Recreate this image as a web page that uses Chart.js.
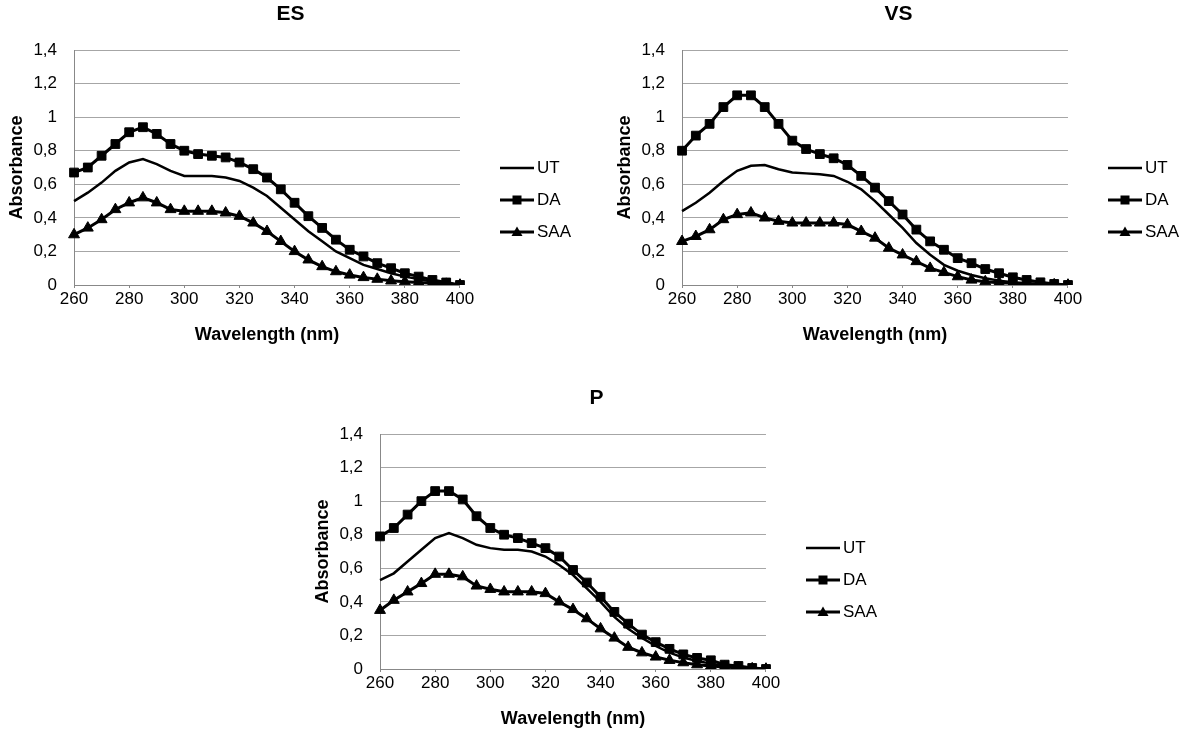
<!DOCTYPE html>
<html>
<head>
<meta charset="utf-8">
<script src="https://cdn.jsdelivr.net/npm/chart.js@4.4.1/dist/chart.umd.min.js"></script>
<style>
  html, body { margin: 0; padding: 0; background: #fff; overflow: hidden; }
  body { width: 1181px; height: 731px; position: relative; }
  canvas { position: absolute; }
</style>
</head>
<body>
<canvas id="esChart" width="581" height="400" style="left:0px;top:0px"></canvas>
<canvas id="vsChart" width="581" height="400" style="left:608px;top:0px"></canvas>
<canvas id="pChart" width="581" height="392" style="left:306px;top:384px"></canvas>
<script>
// wavelength categories (nm)
const wavelengths = [260, 265, 270, 275, 280, 285, 290, 295, 300, 305, 310, 315, 320, 325, 330,
  335, 340, 345, 350, 355, 360, 365, 370, 375, 380, 385, 390, 395, 400];
const seriesNames = ['UT', 'DA', 'SAA'];

// ES
const esUT = [0.50, 0.55, 0.61, 0.68, 0.73, 0.75, 0.72, 0.68, 0.65, 0.65, 0.65, 0.64, 0.62, 0.58, 0.53,
  0.46, 0.39, 0.32, 0.26, 0.20, 0.16, 0.12, 0.095, 0.07, 0.05, 0.035, 0.02, 0.01, 0.0];
const esDA = [0.67, 0.70, 0.77, 0.84, 0.91, 0.94, 0.90, 0.84, 0.80, 0.78, 0.77, 0.76, 0.73, 0.69, 0.64,
  0.57, 0.49, 0.41, 0.34, 0.27, 0.21, 0.17, 0.13, 0.10, 0.07, 0.05, 0.03, 0.015, 0.0];
const esSAA = [0.30, 0.34, 0.39, 0.45, 0.49, 0.52, 0.49, 0.45, 0.44, 0.44, 0.44, 0.43, 0.41, 0.37, 0.32,
  0.26, 0.20, 0.15, 0.11, 0.08, 0.06, 0.045, 0.035, 0.025, 0.02, 0.015, 0.01, 0.005, 0.0];

// VS
const vsUT = [0.44, 0.49, 0.55, 0.62, 0.68, 0.71, 0.715, 0.69, 0.67, 0.665, 0.66, 0.65, 0.615, 0.57, 0.50,
  0.42, 0.34, 0.25, 0.18, 0.12, 0.085, 0.06, 0.04, 0.026, 0.016, 0.01, 0.006, 0.002, 0.0];
const vsDA = [0.80, 0.89, 0.96, 1.06, 1.13, 1.13, 1.06, 0.96, 0.86, 0.81, 0.78, 0.755, 0.715, 0.65, 0.58,
  0.50, 0.42, 0.33, 0.26, 0.21, 0.16, 0.13, 0.095, 0.07, 0.046, 0.03, 0.016, 0.006, 0.0];
const vsSAA = [0.26, 0.29, 0.33, 0.39, 0.42, 0.43, 0.40, 0.38, 0.37, 0.37, 0.37, 0.37, 0.36, 0.32, 0.28,
  0.22, 0.18, 0.14, 0.10, 0.075, 0.05, 0.03, 0.02, 0.014, 0.01, 0.006, 0.004, 0.002, 0.0];

// P
const pUT = [0.53, 0.57, 0.64, 0.71, 0.78, 0.81, 0.78, 0.74, 0.72, 0.71, 0.71, 0.70, 0.67, 0.62, 0.56,
  0.48, 0.40, 0.31, 0.24, 0.185, 0.137, 0.097, 0.068, 0.048, 0.032, 0.02, 0.012, 0.004, 0.0];
const pDA = [0.79, 0.84, 0.92, 1.00, 1.06, 1.06, 1.01, 0.91, 0.84, 0.80, 0.78, 0.75, 0.72, 0.67, 0.59,
  0.515, 0.43, 0.34, 0.27, 0.205, 0.16, 0.12, 0.087, 0.066, 0.052, 0.026, 0.018, 0.006, 0.0];
const pSAA = [0.35, 0.41, 0.46, 0.51, 0.565, 0.565, 0.55, 0.495, 0.475, 0.46, 0.46, 0.46, 0.45, 0.40, 0.355,
  0.30, 0.24, 0.185, 0.13, 0.097, 0.072, 0.052, 0.038, 0.026, 0.018, 0.012, 0.006, 0.002, 0.0];

const FONT = "'Liberation Sans', Arial, sans-serif";

// small pictures for the legend: line with marker in the middle
function legendIcon(kind) {
  const c = document.createElement('canvas');
  c.width = 34;
  c.height = 14;
  const g = c.getContext('2d');
  g.strokeStyle = '#000';
  g.fillStyle = '#000';
  g.lineWidth = kind === 'line' ? 2.5 : 3;
  g.beginPath();
  g.moveTo(0, 7);
  g.lineTo(34, 7);
  g.stroke();
  if (kind === 'rect') {
    g.fillRect(12.5, 2.5, 9, 9);
  } else if (kind === 'triangle') {
    g.beginPath();
    g.moveTo(17, 1.5);
    g.lineTo(22.5, 11);
    g.lineTo(11.5, 11);
    g.closePath();
    g.fill();
  }
  return c;
}
const icons = [legendIcon('line'), legendIcon('rect'), legendIcon('triangle')];

function makeChart(id, title, ut, da, saa, bottomPad) {
  const ctx = document.getElementById(id).getContext('2d');
  return new Chart(ctx, {
    type: 'line',
    data: {
      labels: wavelengths,
      datasets: [{
        label: seriesNames[0],
        data: ut,
        borderColor: '#000',
        borderWidth: 2.5,
        pointRadius: 0,
        tension: 0
      }, {
        label: seriesNames[1],
        data: da,
        borderColor: '#000',
        borderWidth: 3,
        pointStyle: 'rect',
        pointRadius: 6.2,
        pointBackgroundColor: '#000',
        pointBorderColor: '#000',
        pointBorderWidth: 1,
        tension: 0
      }, {
        label: seriesNames[2],
        data: saa,
        borderColor: '#000',
        borderWidth: 3,
        pointStyle: 'triangle',
        pointRadius: 6.3,
        pointBackgroundColor: '#000',
        pointBorderColor: '#000',
        pointBorderWidth: 1,
        tension: 0
      }]
    },
    options: {
      responsive: false,
      animation: false,
      events: [],
      layout: { padding: 0 },
      plugins: {
        title: {
          display: true,
          text: title,
          color: '#000',
          font: { family: FONT, size: 21, weight: 'bold' },
          padding: { top: 1.5, bottom: 23.3 }
        },
        legend: {
          position: 'right',
          labels: {
            usePointStyle: true,
            pointStyleWidth: 23,
            padding: 15,
            color: '#000',
            font: { family: FONT, size: 17 },
            generateLabels: (chart) => chart.data.datasets.map((ds, i) => ({
              text: ds.label,
              pointStyle: icons[i],
              fillStyle: '#000',
              strokeStyle: '#000',
              lineWidth: 0,
              hidden: false,
              datasetIndex: i
            }))
          }
        },
        tooltip: { enabled: false }
      },
      scales: {
        x: {
          type: 'category',
          grid: {
            display: true,
            drawOnChartArea: false,
            drawTicks: true,
            tickLength: 3,
            color: (c) => (c.index % 4 === 0 ? '#888' : 'rgba(0,0,0,0)')
          },
          border: { display: true, color: '#888', width: 1 },
          ticks: {
            autoSkip: false,
            maxRotation: 0,
            padding: 1.3,
            color: '#000',
            font: { family: FONT, size: 17 },
            callback: (v, i) => (i % 4 === 0 ? String(wavelengths[i]) : '')
          },
          title: {
            display: true,
            text: 'Wavelength (nm)',
            color: '#000',
            font: { family: FONT, size: 18, weight: 'bold' },
            padding: { top: 13.2, bottom: bottomPad }
          }
        },
        y: {
          min: 0,
          max: 1.4,
          grid: { color: '#a6a6a6', lineWidth: 1, drawTicks: false },
          border: { display: true, color: '#888', width: 1 },
          ticks: {
            stepSize: 0.2,
            padding: 17,
            color: '#000',
            font: { family: FONT, size: 17 },
            callback: (v) => String(Math.round(v * 10) / 10).replace('.', ',')
          },
          title: {
            display: true,
            text: 'Absorbance',
            color: '#000',
            font: { family: FONT, size: 18, weight: 'bold' },
            padding: { top: 6, bottom: -11.2 }
          }
        },
        // empty axis, only keeps the gap between plot and legend
        gap: {
          type: 'linear',
          position: 'right',
          display: true,
          grid: { display: false },
          border: { display: false },
          ticks: { display: false },
          afterFit: (s) => { s.width = 30.5; }
        }
      }
    }
  });
}

makeChart('esChart', 'ES', esUT, esDA, esSAA, 54.2);
makeChart('vsChart', 'VS', vsUT, vsDA, vsSAA, 54.2);
makeChart('pChart', 'P', pUT, pDA, pSAA, 46.2);
</script>
</body>
</html>
